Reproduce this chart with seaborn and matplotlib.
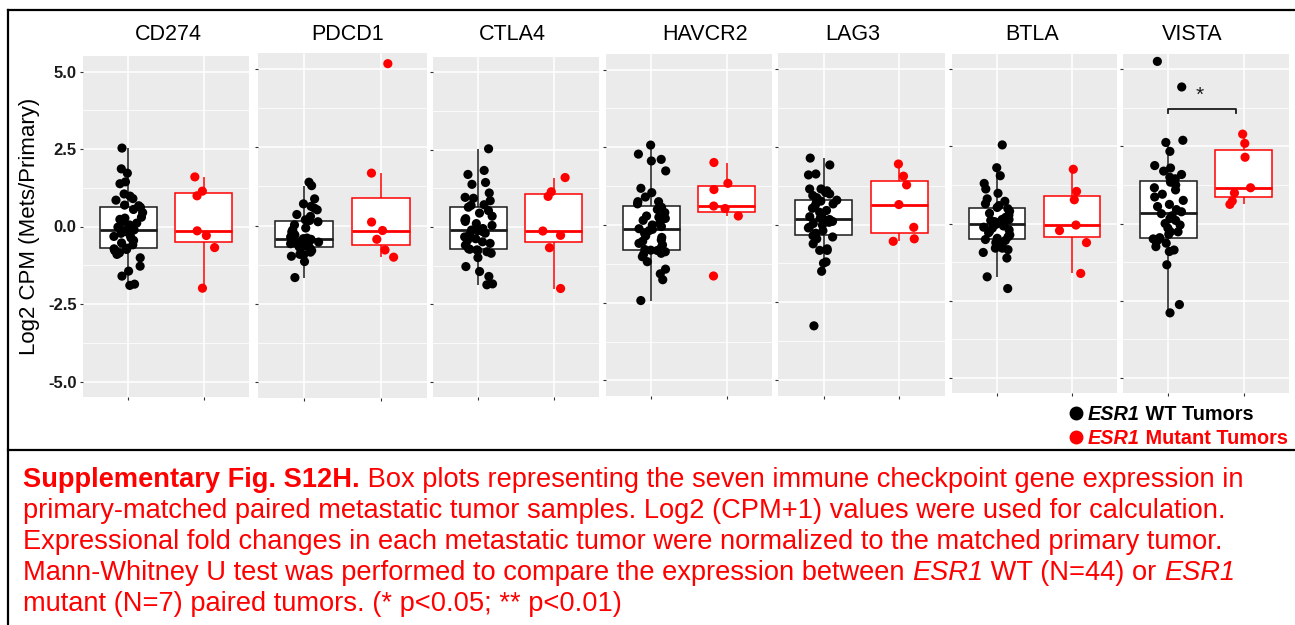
import numpy as np
import pandas as pd
import matplotlib
matplotlib.use("Agg")
import matplotlib.pyplot as plt
import seaborn as sns
from matplotlib.lines import Line2D

# ---------------- data ----------------
genes = ["CD274", "PDCD1", "CTLA4", "HAVCR2", "LAG3", "BTLA", "VISTA"]
groups = ["WT", "Mutant"]

wt_cd274 = [-1.90, -1.86, -1.60, -1.44, -1.28, -1.01, -0.90, -0.85, -0.78, -0.74, -0.72, -0.70,
            -0.59, -0.53, -0.45, -0.37, -0.32, -0.28, -0.22, -0.16, -0.13, -0.11, -0.11, -0.02,
            0.05, 0.11, 0.15, 0.23, 0.27, 0.30, 0.45, 0.55, 0.62, 0.67, 0.69, 0.85, 0.90, 0.98,
            1.05, 1.38, 1.44, 1.72, 1.86, 2.53]
mut_cd274 = [-1.99, -0.68, -0.29, -0.14, 0.99, 1.14, 1.60]

wt_pdcd1 = [-1.66, -1.15, -0.98, -0.94, -0.92, -0.85, -0.80, -0.76, -0.73, -0.71, -0.70, -0.68,
            -0.65, -0.62, -0.60, -0.58, -0.56, -0.53, -0.50, -0.48, -0.46, -0.44, -0.42, -0.40,
            -0.38, -0.35, -0.30, -0.25, -0.20, -0.14, -0.08, 0.02, 0.12, 0.16, 0.18, 0.29, 0.35,
            0.50, 0.55, 0.61, 0.69, 0.85, 1.27, 1.38]
mut_pdcd1 = [-1.01, -0.78, -0.44, -0.16, 0.11, 1.67, 5.16]

wt_ctla4 = [-1.87, -1.84, -1.60, -1.44, -1.28, -0.99, -0.85, -0.80, -0.76, -0.74, -0.72, -0.70,
            -0.59, -0.53, -0.48, -0.43, -0.38, -0.32, -0.25, -0.20, -0.15, -0.12, -0.10, -0.05,
            0.05, 0.11, 0.18, 0.23, 0.27, 0.35, 0.45, 0.53, 0.64, 0.70, 0.72, 0.85, 0.93, 0.96,
            1.10, 1.38, 1.44, 1.70, 1.83, 2.53]
mut_ctla4 = [-1.99, -0.67, -0.27, -0.13, 0.99, 1.14, 1.60]

wt_havcr2 = [-2.43, -1.76, -1.57, -1.42, -1.18, -1.02, -0.95, -0.91, -0.86, -0.82, -0.81, -0.79,
             -0.72, -0.64, -0.59, -0.52, -0.48, -0.40, -0.35, -0.27, -0.18, -0.14, -0.12, -0.05,
             0.00, 0.05, 0.15, 0.21, 0.25, 0.29, 0.40, 0.50, 0.57, 0.68, 0.75, 0.75, 0.90, 1.04,
             1.18, 1.74, 2.06, 2.11, 2.28, 2.57]
mut_havcr2 = [-1.64, 0.29, 0.53, 0.61, 1.14, 1.34, 2.01]

wt_lag3 = [-3.25, -1.50, -1.24, -1.20, -0.83, -0.83, -0.78, -0.62, -0.46, -0.40, -0.36, -0.33,
           -0.28, -0.20, -0.11, -0.09, -0.02, 0.03, 0.07, 0.10, 0.13, 0.16, 0.20, 0.25, 0.30,
           0.39, 0.45, 0.52, 0.61, 0.66, 0.71, 0.75, 0.78, 0.86, 0.93, 0.98, 1.03, 1.08, 1.14,
           1.14, 1.59, 1.62, 1.91, 2.13]
mut_lag3 = [-0.54, -0.46, -0.09, 0.64, 1.27, 1.55, 1.94]

wt_btla = [-2.11, -1.73, -1.12, -0.94, -0.85, -0.80, -0.80, -0.70, -0.62, -0.55, -0.52, -0.48,
           -0.43, -0.37, -0.30, -0.25, -0.21, -0.15, -0.12, -0.08, -0.05, -0.04, -0.02, 0.02,
           0.06, 0.10, 0.13, 0.13, 0.20, 0.27, 0.33, 0.40, 0.48, 0.52, 0.58, 0.64, 0.72, 0.80,
           0.98, 1.12, 1.30, 1.55, 1.81, 2.55]
mut_btla = [-1.62, -0.62, -0.23, -0.05, 0.77, 1.04, 1.76]

wt_vista = [-2.90, -2.63, -1.34, -0.91, -0.86, -0.75, -0.64, -0.59, -0.55, -0.50, -0.49, -0.46,
            -0.35, -0.27, -0.27, -0.15, -0.05, 0.00, 0.10, 0.16, 0.25, 0.32, 0.38, 0.45, 0.55,
            0.62, 0.75, 0.86, 0.95, 1.09, 1.16, 1.25, 1.34, 1.45, 1.50, 1.59, 1.70, 1.80, 1.88,
            2.34, 2.63, 2.70, 4.43, 5.26]
mut_vista = [0.62, 0.73, 0.99, 1.16, 2.15, 2.60, 2.90]

wt_values = [wt_cd274, wt_pdcd1, wt_ctla4, wt_havcr2, wt_lag3, wt_btla, wt_vista]
mut_values = [mut_cd274, mut_pdcd1, mut_ctla4, mut_havcr2, mut_lag3, mut_btla, mut_vista]

yticks = [-5.0, -2.5, 0.0, 2.5, 5.0]
ytick_labels = ["-5.0", "-2.5", "0.0", "2.5", "5.0"]
yminor = [-3.75, -1.25, 1.25, 3.75]
ylabel = "Log2 CPM (Mets/Primary)"
sig_gene = "VISTA"
sig_label = "*"
sig_bracket_y = 3.73

legend_entries = [("ESR1", " WT Tumors"), ("ESR1", " Mutant Tumors")]

caption_lines = [
    [("Supplementary Fig. S12H.", "bold", "normal"),
     (" Box plots representing the seven immune checkpoint gene expression in", "normal", "normal")],
    [("primary-matched paired metastatic tumor samples. Log2 (CPM+1) values were used for calculation.", "normal", "normal")],
    [("Expressional fold changes in each metastatic tumor were normalized to the matched primary tumor.", "normal", "normal")],
    [("Mann-Whitney U test was performed to compare the expression between ", "normal", "normal"),
     ("ESR1", "normal", "italic"), (" WT (N=44) or ", "normal", "normal"), ("ESR1", "normal", "italic")],
    [("mutant (N=7) paired tumors. (* p<0.05; ** p<0.01)", "normal", "normal")],
]

rows = []
for g, wv, mv in zip(genes, wt_values, mut_values):
    rows += [(g, "WT", v) for v in wv]
    rows += [(g, "Mutant", v) for v in mv]
df = pd.DataFrame(rows, columns=["gene", "group", "value"])

# ---------------- style / layout ----------------
RED = "#FF0000"
line_colors = {"WT": "#1a1a1a", "Mutant": RED}
point_colors = {"WT": "black", "Mutant": RED}
plt.rcParams["font.family"] = ["Liberation Sans", "DejaVu Sans"]

W, H = 1295, 625
fig = plt.figure(figsize=(W / 100, H / 100), dpi=100)
fig.patch.set_facecolor("white")

PANELS = [(83, 56, 249, 397), (258, 53, 427, 398), (433, 57, 599, 397), (606, 54, 772, 396),
          (778, 53, 945, 396), (952, 54, 1117, 393), (1123, 54, 1289, 393)]
TITLE_X = [168, 348, 512, 705, 853, 1032, 1192]
TITLE_Y = 35


def fx(x):
    return x / W


def fy(y):
    return 1 - y / H


np.random.seed(3)
for i, g in enumerate(genes):
    l, t, r, b = PANELS[i]
    ax = fig.add_axes([fx(l), fy(b), (r - l) / W, (b - t) / H])
    ax.set_facecolor("#EBEBEB")
    sub = df[df.gene == g]
    for grp in groups:
        sns.boxplot(data=sub[sub.group == grp], x="group", y="value", order=groups,
                    color="white", linecolor=line_colors[grp], saturation=1, width=0.75,
                    showfliers=False, linewidth=1.1, whis=1.5,
                    medianprops=dict(linewidth=2.0), capprops=dict(alpha=0), ax=ax)
    sns.stripplot(data=sub, x="group", y="value", hue="group", order=groups, hue_order=groups,
                  palette=point_colors, jitter=0.2, size=6.6, linewidth=0, legend=False,
                  ax=ax, zorder=4)
    ax.set_xlim(-0.6, 1.6)
    ax.set_ylim(-5.5, 5.5)
    ax.set_yticks(yticks)
    ax.set_yticks(yminor, minor=True)
    ax.set_xticks([0, 1])
    ax.set_xticklabels([])
    ax.grid(True, which="major", axis="both", color="white", linewidth=1.1)
    ax.grid(True, which="minor", axis="y", color="white", linewidth=0.55)
    ax.set_axisbelow(True)
    for s in ax.spines.values():
        s.set_visible(False)
    ax.tick_params(axis="both", which="major", length=2.5, width=0.8, color="#333333")
    ax.tick_params(axis="y", which="minor", length=0)
    ax.set_xlabel("")
    ax.set_ylabel("")
    if i == 0:
        ax.set_yticklabels(ytick_labels, fontsize=12, fontweight="bold", color="#1a1a1a")
        ax.tick_params(axis="y", pad=2)
    else:
        ax.set_yticklabels([])
    fig.text(fx(TITLE_X[i]), fy(TITLE_Y), g, fontsize=15.5, ha="center", va="center", color="black")
    if g == sig_gene:
        ax.plot([0, 0, 0.9, 0.9], [sig_bracket_y - 0.13, sig_bracket_y, sig_bracket_y, sig_bracket_y - 0.13],
                color="#1a1a1a", linewidth=1.3, zorder=5)
        ax.text(0.42, sig_bracket_y + 0.42, sig_label, ha="center", va="center", fontsize=15,
                color="#1a1a1a")

fig.text(fx(30), fy(226), ylabel, rotation=90, fontsize=16, ha="center", va="center")

# ---------------- mixed-style text runs ----------------
fig.canvas.draw()
renderer = fig.canvas.get_renderer()


def adv_width(txt, size, weight, style):
    a = fig.text(0, 0, "|" + txt + "|", fontsize=size, fontweight=weight, fontstyle=style)
    b = fig.text(0, 0, "||", fontsize=size, fontweight=weight, fontstyle=style)
    w = a.get_window_extent(renderer).width - b.get_window_extent(renderer).width
    a.remove()
    b.remove()
    return w


def draw_runs(x_px, base_px, runs, size, color):
    x = x_px
    for txt, weight, style in runs:
        fig.text(fx(x), fy(base_px), txt, fontsize=size, fontweight=weight, fontstyle=style,
                 color=color, ha="left", va="baseline")
        x += adv_width(txt, size, weight, style)


# legend
for k, (ital, rest) in enumerate(legend_entries):
    col = "black" if k == 0 else RED
    yc = 413 + 24 * k
    fig.add_artist(Line2D([fx(1076)], [fy(yc)], transform=fig.transFigure, marker="o",
                          markersize=9.0, color=col, linestyle="none"))
    draw_runs(1088, yc + 7, [(ital, "bold", "italic"), (rest, "bold", "normal")], 14.3, col)

# caption
for j, runs in enumerate(caption_lines):
    draw_runs(23, 487 + 31 * j, runs, 19.6, RED)

# frame lines
for xs, ys in [([8, 8], [10, 625]), ([8, 1295], [10, 10]), ([8, 1295], [450, 450])]:
    fig.add_artist(Line2D([fx(v) for v in xs], [fy(v) for v in ys], transform=fig.transFigure,
                          color="black", linewidth=1.6))

fig.savefig("out.png", dpi=100)
